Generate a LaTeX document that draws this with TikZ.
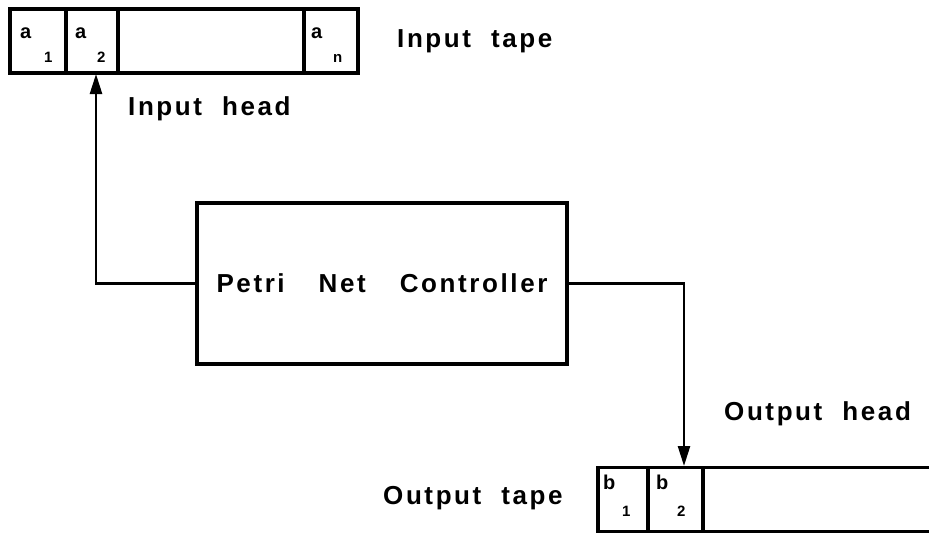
\documentclass[tikz,border=0pt]{standalone}
\usepackage{fontspec}
\setmainfont{Liberation Sans}
\newfontfamily\lblfont{Liberation Sans}[LetterSpace=10]
\newfontfamily\symfont{Liberation Sans}
\newcommand{\wsp}{\hspace{20pt}}
\newcommand{\csp}{\hspace{34pt}}
\usetikzlibrary{arrows.meta}
\begin{document}
\begin{tikzpicture}[x=1pt,y=-1pt,
  lbl/.style={font=\lblfont\bfseries\fontsize{26}{30}\selectfont, inner sep=0pt, anchor=base west},
  cell/.style={draw, line width=3.5pt, inner sep=0pt, outer sep=0pt, minimum height=64pt},
  sym/.style={font=\symfont\bfseries\fontsize{20}{22}\selectfont, inner sep=0pt, anchor=base west},
  subs/.style={font=\symfont\bfseries\fontsize{15}{17}\selectfont, inner sep=0pt, anchor=base west},
  conn/.style={line width=2.5pt},
  tip/.style={-{Triangle[length=20pt,width=12pt]}}]
\useasboundingbox (0,0) rectangle (929,533);
% input tape
\node[cell, minimum width=56pt] (a1) at (38,41) {};
\node[cell, minimum width=52pt] (a2) at (92,41) {};
\node[cell, minimum width=186pt] (amid) at (211,41) {};
\node[cell, minimum width=54pt] (an) at (331,41) {};
\node[sym] (ta1) at (20,38) {a};
\node[subs] (sa1) at (44,62) {1};
\node[sym] (ta2) at (75,38) {a};
\node[subs] (sa2) at (97,62) {2};
\node[sym] (tan) at (311,38) {a};
\node[subs] (san) at (333,62) {n};
\node[lbl] (itape) at (397,47) {Input\wsp tape};
\node[lbl] (ihead) at (128,115) {Input\wsp head};
% controller
\node[draw, line width=3.5pt, outer sep=0pt, minimum width=370pt, minimum height=161pt, inner sep=0pt,
      font=\lblfont\bfseries\fontsize{26}{30}\selectfont] (ctrl) at (382,283.5) {Petri\csp Net\csp Controller};
% output tape
\node[cell, minimum width=50pt] (b1) at (623,499.5) {};
\node[cell, minimum width=55pt] (b2) at (675.5,499.5) {};
\coordinate (bte) at (929,467.5);
\coordinate (bbe) at (929,531.5);
\draw[line width=3.5pt] (bte) -- (b2.north east) (b2.south east) -- (bbe);
\node[sym] (tb1) at (603,489) {b};
\node[subs] (sb1) at (622,516) {1};
\node[sym] (tb2) at (656,489) {b};
\node[subs] (sb2) at (677,516) {2};
\node[lbl] (otape) at (383,504) {Output\wsp tape};
\node[lbl] (ohead) at (724,420) {Output\wsp head};
% connectors
\coordinate (ih) at (96,74);
\coordinate (oh) at (684,466);
\draw[conn, tip] (ctrl.west) -| (ih);
\draw[conn, tip] (ctrl.east) -| (oh);
\end{tikzpicture}
\end{document}
